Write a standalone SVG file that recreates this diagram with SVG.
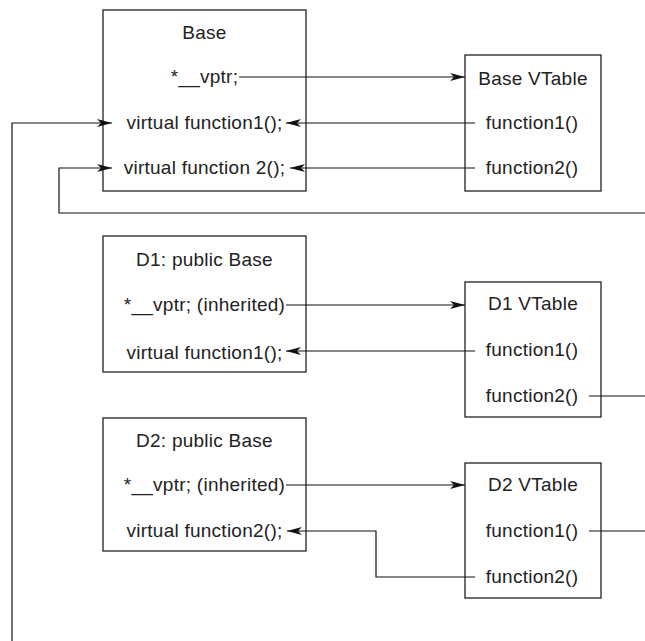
<svg xmlns="http://www.w3.org/2000/svg" width="645" height="641" viewBox="0 0 645 641">
<style>
.box{fill:#fff;stroke:#222;stroke-width:1.3}
.t{font-family:"Liberation Sans",Arial,sans-serif;font-size:19px;letter-spacing:0.25px;fill:#222;text-anchor:middle}
.c{fill:none;stroke:#111;stroke-width:1.2}
.a{marker-end:url(#arr)}
</style>
<defs>
<marker id="arr" markerUnits="userSpaceOnUse" markerWidth="16" markerHeight="12" refX="15" refY="6" orient="auto">
<path d="M0,2 L15,6 L0,10 L4,6 z" fill="#111"/>
</marker>
</defs>
<rect width="645" height="641" fill="#fff"/>
<g id="base">
<rect class="box" x="103" y="10" width="203" height="181"/>
<text class="t" x="204.5" y="39">Base</text>
<text class="t" x="204.5" y="83">*__vptr;</text>
<text class="t" x="204.5" y="129">virtual function1();</text>
<text class="t" x="204.5" y="174">virtual function 2();</text>
</g>
<g id="base-vtable">
<rect class="box" x="465" y="55" width="136" height="136"/>
<text class="t" x="533" y="85">Base VTable</text>
<text class="t" x="532" y="129">function1()</text>
<text class="t" x="532" y="174">function2()</text>
</g>
<g id="d1">
<rect class="box" x="103" y="236" width="203" height="136"/>
<text class="t" x="204.5" y="266">D1: public Base</text>
<text class="t" x="204.5" y="311">*__vptr; (inherited)</text>
<text class="t" x="204.5" y="359">virtual function1();</text>
</g>
<g id="d1-vtable">
<rect class="box" x="465" y="282" width="136" height="135"/>
<text class="t" x="533" y="310">D1 VTable</text>
<text class="t" x="532" y="356">function1()</text>
<text class="t" x="532" y="402">function2()</text>
</g>
<g id="d2">
<rect class="box" x="103" y="418" width="203" height="133"/>
<text class="t" x="204.5" y="447">D2: public Base</text>
<text class="t" x="204.5" y="491">*__vptr; (inherited)</text>
<text class="t" x="204.5" y="537">virtual function2();</text>
</g>
<g id="d2-vtable">
<rect class="box" x="465" y="463" width="136" height="135"/>
<text class="t" x="533" y="491">D2 VTable</text>
<text class="t" x="532" y="537">function1()</text>
<text class="t" x="532" y="583">function2()</text>
</g>
<g id="connectors">
<path class="c a" d="M239,77 H465"/>
<path class="c a" d="M475,123 H286"/>
<path class="c a" d="M475,168 H290"/>
<path class="c a" d="M286,305 H465"/>
<path class="c a" d="M475,351 H286"/>
<path class="c" d="M589,396 H645"/>
<path class="c a" d="M286,485 H465"/>
<path class="c a" d="M475,577 H376 V531 H287"/>
<path class="c" d="M589,531 H645"/>
<path class="c a" d="M12,641 V123 H112"/>
<path class="c a" d="M645,213 H59 V168 H112"/>
</g>
</svg>
